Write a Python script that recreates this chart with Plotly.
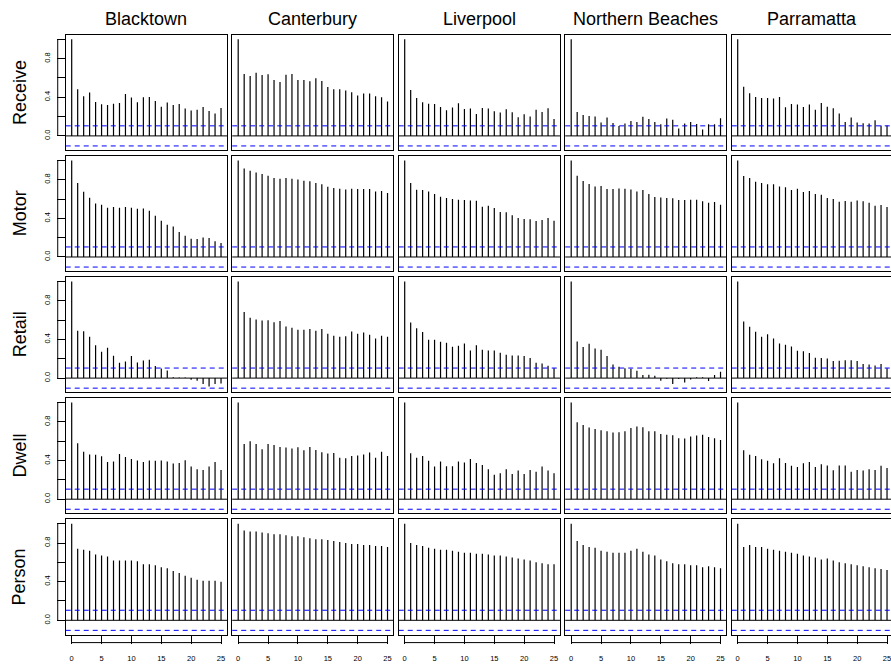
import plotly.graph_objects as go

# ---------------- data ----------------
districts = ["Blacktown", "Canterbury", "Liverpool", "Northern Beaches", "Parramatta"]
measures = ["Receive", "Motor", "Retail", "Dwell", "Person"]
lags = list(range(26))
clim = 0.104  # 95% confidence bound

y_tickvals = [0.0, 0.2, 0.4, 0.6, 0.8, 1.0]
y_ticktext = ["0.0", "", "0.4", "", "0.8", ""]
x_tickvals = [0, 5, 10, 15, 20, 25]
x_ticktext = ["0", "5", "10", "15", "20", "25"]

receive_blacktown = [1, 0.483, 0.41, 0.448, 0.352, 0.328, 0.321, 0.334, 0.341, 0.434, 0.397, 0.348, 0.40,
                     0.403, 0.362, 0.303, 0.345, 0.321, 0.331, 0.283, 0.262, 0.272, 0.30, 0.259, 0.231, 0.29]
receive_canterbury = [1, 0.641, 0.621, 0.655, 0.631, 0.638, 0.579, 0.559, 0.634, 0.641, 0.579, 0.579, 0.566,
                      0.597, 0.569, 0.507, 0.483, 0.483, 0.469, 0.452, 0.417, 0.438, 0.438, 0.41, 0.40, 0.355]
receive_liverpool = [1, 0.476, 0.393, 0.348, 0.334, 0.331, 0.30, 0.266, 0.293, 0.338, 0.279, 0.283, 0.228,
                     0.29, 0.283, 0.255, 0.241, 0.276, 0.245, 0.193, 0.224, 0.20, 0.272, 0.248, 0.286, 0.176]
receive_northern = [1, 0.248, 0.217, 0.207, 0.20, 0.138, 0.19, 0.134, 0.103, 0.128, 0.155, 0.145, 0.197,
                    0.176, 0.145, 0.121, 0.179, 0.166, 0.076, 0.128, 0.145, 0.124, 0.066, 0.121, 0.121, 0.183]
receive_parramatta = [1, 0.51, 0.441, 0.403, 0.393, 0.393, 0.386, 0.403, 0.297, 0.331, 0.324, 0.30, 0.324,
                      0.272, 0.341, 0.303, 0.286, 0.231, 0.145, 0.19, 0.138, 0.131, 0.128, 0.162, 0.107, 0.107]

motor_blacktown = [1, 0.766, 0.676, 0.614, 0.555, 0.541, 0.51, 0.517, 0.51, 0.517, 0.51, 0.50, 0.503,
                   0.479, 0.428, 0.376, 0.334, 0.317, 0.259, 0.221, 0.19, 0.186, 0.203, 0.197, 0.162, 0.145]
motor_canterbury = [1, 0.917, 0.893, 0.876, 0.859, 0.841, 0.817, 0.81, 0.817, 0.81, 0.803, 0.79, 0.783,
                    0.766, 0.752, 0.728, 0.714, 0.707, 0.70, 0.707, 0.703, 0.703, 0.703, 0.679, 0.683, 0.662]
motor_liverpool = [1, 0.766, 0.697, 0.693, 0.679, 0.652, 0.624, 0.61, 0.60, 0.593, 0.59, 0.586, 0.583,
                   0.521, 0.531, 0.507, 0.466, 0.462, 0.431, 0.403, 0.393, 0.39, 0.372, 0.383, 0.403, 0.376]
motor_northern = [1, 0.841, 0.786, 0.755, 0.731, 0.734, 0.703, 0.703, 0.71, 0.707, 0.70, 0.679, 0.693,
                  0.652, 0.621, 0.617, 0.61, 0.607, 0.59, 0.59, 0.593, 0.593, 0.576, 0.562, 0.569, 0.541]
motor_parramatta = [1, 0.838, 0.817, 0.779, 0.766, 0.752, 0.752, 0.731, 0.721, 0.693, 0.707, 0.672, 0.683,
                    0.652, 0.645, 0.61, 0.60, 0.572, 0.579, 0.572, 0.586, 0.576, 0.562, 0.531, 0.538, 0.517]

retail_blacktown = [1, 0.49, 0.486, 0.428, 0.341, 0.272, 0.314, 0.231, 0.159, 0.172, 0.228, 0.162, 0.183,
                    0.19, 0.124, 0.10, 0.079, 0.008, 0.006, 0.005, -0.017, -0.028, -0.062, -0.086, -0.062, -0.055]
retail_canterbury = [1, 0.683, 0.624, 0.607, 0.597, 0.60, 0.579, 0.59, 0.534, 0.521, 0.50, 0.50, 0.507,
                     0.49, 0.507, 0.459, 0.438, 0.428, 0.434, 0.483, 0.459, 0.472, 0.448, 0.41, 0.438, 0.428]
retail_liverpool = [1, 0.576, 0.517, 0.476, 0.397, 0.397, 0.376, 0.366, 0.324, 0.334, 0.359, 0.286, 0.341,
                    0.293, 0.286, 0.286, 0.262, 0.241, 0.234, 0.234, 0.228, 0.207, 0.159, 0.152, 0.128, 0.103]
retail_northern = [1, 0.379, 0.321, 0.355, 0.307, 0.293, 0.228, 0.141, 0.117, 0.103, 0.097, 0.076, 0.031,
                   0.034, 0.024, -0.028, -0.007, -0.062, -0.01, -0.045, -0.014, 0.01, 0.01, -0.031, 0.031, 0.066]
retail_parramatta = [1, 0.586, 0.531, 0.479, 0.428, 0.455, 0.41, 0.359, 0.345, 0.328, 0.283, 0.279, 0.259,
                     0.21, 0.207, 0.203, 0.176, 0.179, 0.186, 0.186, 0.176, 0.145, 0.141, 0.131, 0.145, 0.103]

dwell_blacktown = [1, 0.579, 0.49, 0.462, 0.459, 0.445, 0.386, 0.39, 0.469, 0.438, 0.417, 0.40, 0.386,
                   0.40, 0.397, 0.40, 0.39, 0.369, 0.376, 0.403, 0.338, 0.31, 0.303, 0.338, 0.386, 0.303]
dwell_canterbury = [1, 0.572, 0.60, 0.572, 0.517, 0.572, 0.562, 0.541, 0.534, 0.524, 0.538, 0.507, 0.541,
                    0.51, 0.486, 0.472, 0.479, 0.428, 0.424, 0.448, 0.452, 0.462, 0.483, 0.428, 0.49, 0.448]
dwell_liverpool = [1, 0.476, 0.428, 0.448, 0.397, 0.338, 0.39, 0.341, 0.341, 0.39, 0.379, 0.417, 0.376,
                   0.355, 0.31, 0.252, 0.269, 0.31, 0.262, 0.297, 0.262, 0.303, 0.283, 0.338, 0.297, 0.269]
dwell_northern = [1, 0.797, 0.769, 0.741, 0.728, 0.714, 0.703, 0.69, 0.693, 0.703, 0.738, 0.752, 0.745,
                  0.703, 0.703, 0.676, 0.666, 0.662, 0.631, 0.628, 0.648, 0.659, 0.666, 0.645, 0.631, 0.614]
dwell_parramatta = [1, 0.507, 0.459, 0.448, 0.414, 0.397, 0.372, 0.424, 0.376, 0.345, 0.334, 0.372, 0.386,
                    0.334, 0.362, 0.348, 0.30, 0.348, 0.348, 0.283, 0.303, 0.297, 0.31, 0.303, 0.345, 0.324]

person_blacktown = [1, 0.74, 0.73, 0.72, 0.68, 0.67, 0.66, 0.62, 0.62, 0.62, 0.62, 0.61, 0.58,
                    0.58, 0.57, 0.55, 0.54, 0.51, 0.49, 0.46, 0.44, 0.42, 0.41, 0.41, 0.41, 0.40]
person_canterbury = [1, 0.93, 0.92, 0.92, 0.91, 0.90, 0.89, 0.89, 0.88, 0.87, 0.87, 0.86, 0.85,
                     0.84, 0.84, 0.83, 0.82, 0.81, 0.80, 0.79, 0.79, 0.78, 0.78, 0.77, 0.77, 0.76]
person_liverpool = [1, 0.80, 0.78, 0.77, 0.75, 0.74, 0.73, 0.73, 0.72, 0.71, 0.70, 0.70, 0.69,
                    0.69, 0.68, 0.67, 0.67, 0.66, 0.65, 0.64, 0.63, 0.62, 0.60, 0.59, 0.58, 0.58]
person_northern = [1, 0.82, 0.78, 0.76, 0.75, 0.72, 0.71, 0.70, 0.70, 0.70, 0.72, 0.74, 0.71,
                   0.68, 0.67, 0.63, 0.61, 0.59, 0.58, 0.58, 0.57, 0.57, 0.55, 0.56, 0.55, 0.54]
person_parramatta = [1, 0.76, 0.78, 0.76, 0.76, 0.74, 0.73, 0.72, 0.71, 0.70, 0.69, 0.67, 0.66,
                     0.65, 0.63, 0.64, 0.62, 0.60, 0.59, 0.58, 0.57, 0.56, 0.55, 0.54, 0.53, 0.52]

acf_rows = [
    [receive_blacktown, receive_canterbury, receive_liverpool, receive_northern, receive_parramatta],
    [motor_blacktown, motor_canterbury, motor_liverpool, motor_northern, motor_parramatta],
    [retail_blacktown, retail_canterbury, retail_liverpool, retail_northern, retail_parramatta],
    [dwell_blacktown, dwell_canterbury, dwell_liverpool, dwell_northern, dwell_parramatta],
    [person_blacktown, person_canterbury, person_liverpool, person_northern, person_parramatta],
]

# ---------------- layout geometry (pixels) ----------------
W, H = 891, 667
FONT = "Liberation Sans, Arial, Helvetica, sans-serif"
PPL = 5.973          # pixels per lag
LAG0_X0 = 71.7       # x pixel of lag 0 in first column
COL_PITCH = 166.5
PPU = 96.6           # pixels per ACF unit
ONE_Y0 = 39.3        # y pixel of acf=1 in first row
ROW_PITCH = 121.1
X_LO, X_HI = -1.0, 26.0
Y_LO, Y_HI = -0.148, 1.044

fig = go.Figure()
shapes = []
annotations = []

for r, measure in enumerate(measures):
    one_y = ONE_Y0 + ROW_PITCH * r
    top_px = one_y - (Y_HI - 1.0) * PPU
    bot_px = one_y + (1.0 - Y_LO) * PPU
    ydom = [1 - bot_px / H, 1 - top_px / H]
    for c, dist in enumerate(districts):
        i = r * 5 + c + 1
        sfx = "" if i == 1 else str(i)
        lag0 = LAG0_X0 + COL_PITCH * c
        left_px = lag0 + X_LO * PPL
        right_px = lag0 + X_HI * PPL
        x_hi = X_HI
        clipped = False
        if right_px > W:
            x_hi = (W - lag0) / PPL
            right_px = W
            clipped = True
        xdom = [left_px / W, right_px / W]

        vals = acf_rows[r][c]
        xs, ys = [], []
        for lag, v in zip(lags, vals):
            xs += [lag, lag, None]
            ys += [0, v, None]
        fig.add_trace(go.Scatter(x=xs, y=ys, mode="lines",
                                 line=dict(color="#000000", width=1.2),
                                 xaxis="x" + sfx, yaxis="y" + sfx,
                                 showlegend=False, hoverinfo="skip"))

        bottom_row = (r == len(measures) - 1)
        first_col = (c == 0)
        fig.layout["xaxis" + sfx] = dict(
            domain=xdom, range=[X_LO, x_hi], anchor="y" + sfx,
            showgrid=False, zeroline=False, showline=True, mirror=True,
            linecolor="black", linewidth=1,
            tickmode="array", tickvals=x_tickvals, ticktext=x_ticktext,
            ticks="outside" if bottom_row else "", ticklen=8, tickcolor="black", tickwidth=1,
            showticklabels=bottom_row, ticklabelstandoff=8, ticklabeloverflow="allow",
            tickfont=dict(family=FONT, size=7.5, color="black"))
        fig.layout["yaxis" + sfx] = dict(
            domain=ydom, range=[Y_LO, Y_HI], anchor="x" + sfx,
            showgrid=False, zeroline=False, showline=True,
            mirror=False if clipped else True,
            linecolor="black", linewidth=1,
            tickmode="array", tickvals=y_tickvals, ticktext=y_ticktext,
            ticks="outside" if first_col else "", ticklen=8, tickcolor="black", tickwidth=1,
            showticklabels=first_col, tickangle=-90, ticklabelstandoff=4,
            tickfont=dict(family=FONT, size=7.5, color="black"))

        # zero line and confidence bounds
        shapes.append(dict(type="line", xref="x" + sfx + " domain", yref="y" + sfx,
                           x0=0, x1=1, y0=0, y1=0, line=dict(color="black", width=1)))
        for s in (clim, -clim):
            shapes.append(dict(type="line", xref="x" + sfx + " domain", yref="y" + sfx,
                               x0=0, x1=1, y0=s, y1=s,
                               line=dict(color="#0000FF", width=1, dash="5px,4px")))
        # offset R-style axis lines
        if first_col:
            shapes.append(dict(type="line", xref="x" + sfx + " domain", yref="y" + sfx,
                               x0=-8 / (right_px - left_px), x1=-8 / (right_px - left_px),
                               y0=0, y1=1, line=dict(color="black", width=1)))
        if bottom_row:
            hpx = bot_px - top_px
            shapes.append(dict(type="line", xref="x" + sfx, yref="y" + sfx + " domain",
                               x0=0, x1=25, y0=-8 / hpx, y1=-8 / hpx,
                               line=dict(color="black", width=1)))

        if r == 0:
            cx = (lag0 + X_LO * PPL + lag0 + X_HI * PPL) / 2
            annotations.append(dict(text=dist, xref="paper", yref="paper",
                                    x=cx / W, y=1 - 18.5 / H, xanchor="center", yanchor="middle",
                                    showarrow=False, font=dict(family=FONT, size=18, color="black")))
    cy = (top_px + bot_px) / 2
    annotations.append(dict(text=measure, xref="paper", yref="paper",
                            x=19.5 / W, y=1 - cy / H, xanchor="center", yanchor="middle",
                            textangle=-90, showarrow=False,
                            font=dict(family=FONT, size=18, color="black")))

fig.update_layout(width=W, height=H, margin=dict(l=0, r=0, t=0, b=0),
                  paper_bgcolor="white", plot_bgcolor="white",
                  shapes=shapes, annotations=annotations, showlegend=False,
                  font=dict(family=FONT, color="black"))

fig.write_html("out.html", config={"displayModeBar": False},
               post_script="document.body.style.margin='0px';")
